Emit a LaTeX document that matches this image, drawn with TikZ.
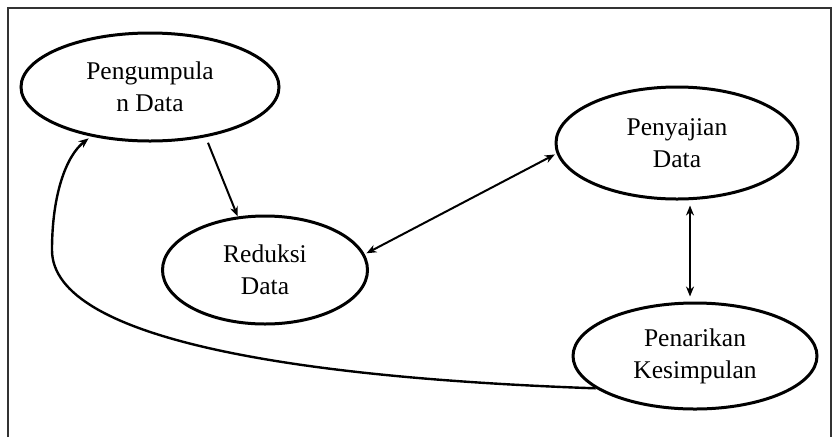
\documentclass[tikz,border=0pt]{standalone}
\usepackage{fontspec}
\setmainfont{Liberation Serif}
\usetikzlibrary{shapes.geometric,arrows.meta}
\begin{document}
\begin{tikzpicture}[x=1pt,y=-1pt,
  stage/.style={ellipse,draw=black,line width=3pt,inner sep=0pt,align=center,
    font=\fontsize{25.5}{32}\selectfont,text=black},
  conn/.style={line width=2pt,-{Stealth[length=10pt,width=8pt]}},
  biconn/.style={line width=2pt,{Stealth[length=10pt,width=8pt]}-{Stealth[length=10pt,width=8pt]}},
  frameline/.style={draw=black!80,line width=1.5pt}]
\useasboundingbox (0,0) rectangle (834,437);
\fill[white] (0,0) rectangle (834,437);
\draw[frameline] (8,437) -- (8,8) -- (831,8) -- (831,437);

\node[stage,minimum width=258pt,minimum height=108pt] (p) at (150,87) {Pengumpula\\n Data};
\node[stage,minimum width=205pt,minimum height=108pt] (r) at (265,270) {Reduksi\\Data};
\node[stage,minimum width=242pt,minimum height=112pt] (s) at (677,143) {Penyajian\\Data};
\node[stage,minimum width=244pt,minimum height=106pt] (k) at (695,356) {Penarikan\\Kesimpulan};

\draw[conn,shorten <=6pt] (p.-42) -- (r.117);
\draw[biconn,shorten <=2pt,shorten >=2pt] (r.9) -- (s.185);
\draw[biconn,shorten <=5pt,shorten >=5pt] ([xshift=13pt]s.south) -- ([xshift=-5pt]k.north);
\draw[conn,line width=2.4pt,shorten >=3pt] (k.198) .. controls (300,378) and (52,340) .. (52,250)
  .. controls (52,195) and (66,156) .. (p.220);
\end{tikzpicture}
\end{document}
